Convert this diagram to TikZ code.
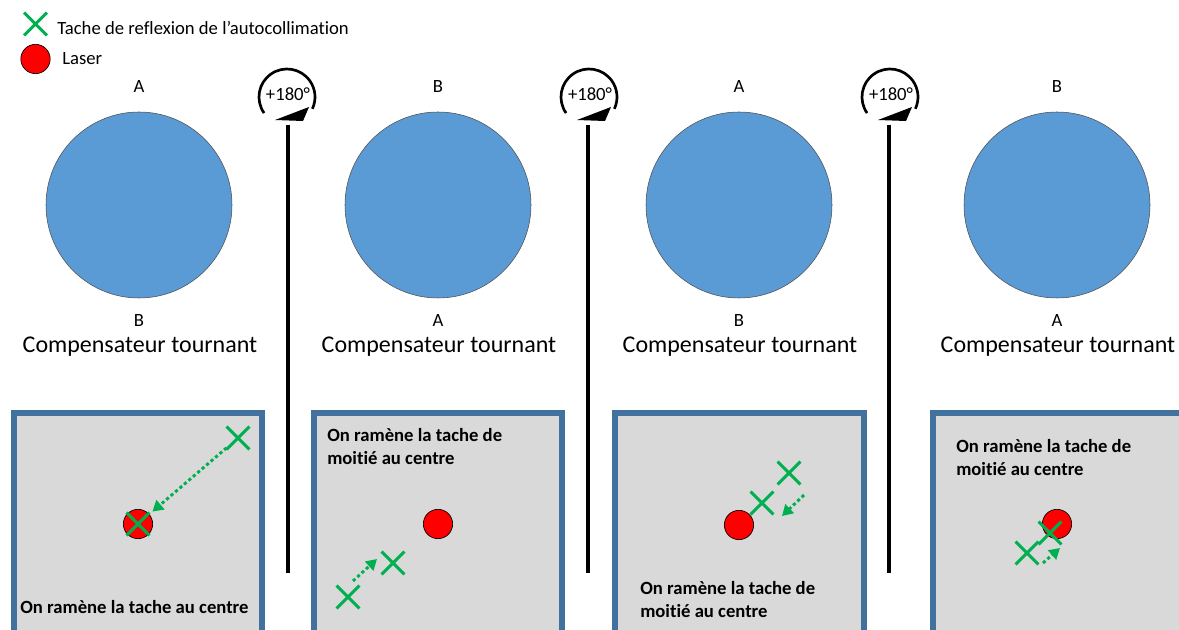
\documentclass[tikz,border=0pt]{standalone}
\usepackage{fontspec}
\setmainfont[Ligatures=NoCommon]{Carlito}
\usepackage{xcolor}
\usetikzlibrary{arrows.meta,positioning,shapes.misc}

\definecolor{diskblue}{HTML}{5B9BD5}
\definecolor{frameblue}{HTML}{41719C}
\definecolor{panelgray}{HTML}{D9D9D9}
\definecolor{spotgreen}{HTML}{00B050}

\begin{document}
\begin{tikzpicture}[
  x=0.75pt, y=0.75pt,
  disk/.style={circle, draw=black!70, line width=0.4pt, fill=diskblue,
               minimum size=139.5pt, inner sep=0pt},
  face/.style={font=\fontsize{14}{17}\selectfont, inner sep=0pt},
  caption/.style={font=\fontsize{18}{22}\selectfont, inner sep=0pt},
  laser/.style={circle, draw=black, line width=0.5pt, fill=red,
                minimum size=22pt, inner sep=0pt},
  spot/.style={cross out, draw=spotgreen, line width=2.2pt,
               minimum size=15pt, inner sep=0pt},
  panel/.style={draw=frameblue, line width=3.8pt, fill=panelgray},
  note/.style={font=\bfseries\fontsize{14}{17}\selectfont, align=left, inner sep=0pt},
  garr/.style={draw=spotgreen, line width=2.2pt, dash pattern=on 2.4pt off 2pt,
               -{Triangle[length=8pt, width=9pt]}},
  sep/.style={line width=2.6pt},
  turn/.style={line width=2pt},
  angle/.style={font=\fontsize{14}{16}\selectfont, inner sep=0pt}
]
\useasboundingbox (0,-630) rectangle (1179,0);

% legend
\node[spot] (keyspot) at (35.5,-24) {};
\node[face, anchor=base west] (keyspottext) at (57,-35) {Tache de reflexion de l’autocollimation};
\node[laser] (keylaser) at (35.5,-59) {};
\node[face, anchor=base west] (keylasertext) at (62,-65) {Laser};

% compensateur, 4 positions
\node[face, anchor=base] (top1) at (139,-93) {A};
\node[disk] (disk1) at (139,-205) {};
\node[face, anchor=base] (bot1) at (139,-327) {B};
\node[caption, anchor=base] (cap1) at (140,-353) {Compensateur tournant};

\node[face, anchor=base] (top2) at (438,-93) {B};
\node[disk] (disk2) at (438,-205) {};
\node[face, anchor=base] (bot2) at (438,-327) {A};
\node[caption, anchor=base] (cap2) at (439,-353) {Compensateur tournant};

\node[face, anchor=base] (top3) at (739,-93) {A};
\node[disk] (disk3) at (739,-205) {};
\node[face, anchor=base] (bot3) at (739,-327) {B};
\node[caption, anchor=base] (cap3) at (740,-353) {Compensateur tournant};

\node[face, anchor=base] (top4) at (1057,-93) {B};
\node[disk] (disk4) at (1057,-205) {};
\node[face, anchor=base] (bot4) at (1057,-327) {A};
\node[caption, anchor=base] (cap4) at (1058,-353) {Compensateur tournant};

% rotations
\node[angle] (rot1) at (288,-94) {+180°};
\coordinate (c1) at (287,-97);
\draw[turn] ([shift={(215:28)}]c1) arc[start angle=215, end angle=-25, radius=28];
\fill ([shift={(22,-10)}]c1) -- ([shift={(-12,-23)}]c1) -- ([shift={(16,-24)}]c1) -- cycle;
\coordinate (s1top) at (288,-125);
\coordinate (s1bot) at (288,-573);
\draw[sep] (s1top) -- (s1bot);

\node[angle] (rot2) at (590,-94) {+180°};
\coordinate (c2) at (589,-97);
\draw[turn] ([shift={(215:28)}]c2) arc[start angle=215, end angle=-25, radius=28];
\fill ([shift={(22,-10)}]c2) -- ([shift={(-12,-23)}]c2) -- ([shift={(16,-24)}]c2) -- cycle;
\coordinate (s2top) at (588,-125);
\coordinate (s2bot) at (588,-573);
\draw[sep] (s2top) -- (s2bot);

\node[angle] (rot3) at (891,-94) {+180°};
\coordinate (c3) at (890,-97);
\draw[turn] ([shift={(215:28)}]c3) arc[start angle=215, end angle=-25, radius=28];
\fill ([shift={(22,-10)}]c3) -- ([shift={(-12,-23)}]c3) -- ([shift={(16,-24)}]c3) -- cycle;
\coordinate (s3top) at (889,-125);
\coordinate (s3bot) at (889,-573);
\draw[sep] (s3top) -- (s3bot);

% panels
\draw[panel] (14,-413) rectangle (262,-660);
\draw[panel] (314,-413) rectangle (562,-660);
\draw[panel] (615,-413) rectangle (864,-660);
\draw[panel] (933,-413) rectangle (1210,-660);

% panel 1
\node[laser] (dot1) at (138,-524) {};
\node[spot] (x1b) at (138,-524) {};
\node[spot] (x1a) at (238,-438) {};
\draw[garr, shorten >=3pt] (x1a) -- (dot1);
\node[note, anchor=base west] (note1) at (20,-614) {On ramène la tache au centre};

% panel 2
\node[note, anchor=north west] (note2) at (327,-428) {On ramène la tache de\\moitié au centre};
\node[laser] (dot2) at (438,-524) {};
\node[spot] (x2a) at (348,-597) {};
\node[spot] (x2b) at (393,-563) {};
\coordinate (a2s) at (353,-581);
\coordinate (a2e) at (377,-559);
\draw[garr] (a2s) -- (a2e);

% panel 3
\node[laser] (dot3) at (739,-525) {};
\node[spot] (x3a) at (789,-473) {};
\node[spot] (x3b) at (762,-503) {};
\coordinate (a3s) at (804,-495);
\coordinate (a3e) at (782,-516);
\draw[garr] (a3s) -- (a3e);
\node[note, anchor=north west] (note3) at (640,-581) {On ramène la tache de\\moitié au centre};

% panel 4
\node[note, anchor=north west] (note4) at (956,-439) {On ramène la tache de\\moitié au centre};
\node[laser] (dot4) at (1057,-524) {};
\node[spot] (x4a) at (1027,-553) {};
\node[spot] (x4b) at (1050,-533) {};
\coordinate (a4s) at (1043,-563);
\coordinate (a4e) at (1060,-548);
\draw[garr] (a4s) -- (a4e);
\end{tikzpicture}
\end{document}
